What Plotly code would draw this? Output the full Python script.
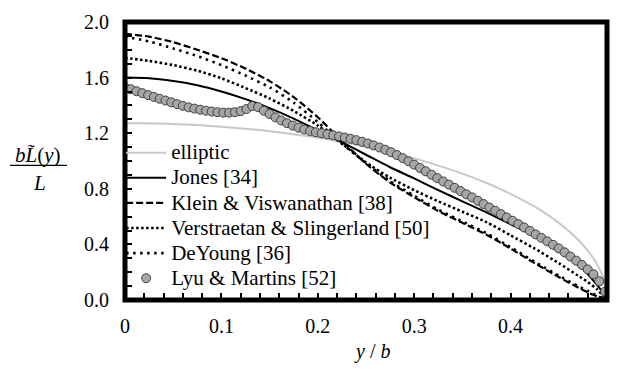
import plotly.graph_objects as go

# ---------------- data ----------------
ell_x = [0, 0.05, 0.1, 0.15, 0.2, 0.25, 0.3, 0.325, 0.35, 0.375, 0.4, 0.425, 0.44,
         0.45, 0.46, 0.47, 0.475, 0.48, 0.485, 0.49, 0.495, 0.498, 0.5]
ell_y = [1.273, 1.267, 1.247, 1.214, 1.167, 1.103, 1.019, 0.967, 0.909, 0.842, 0.764,
         0.671, 0.605, 0.555, 0.499, 0.434, 0.397, 0.356, 0.309, 0.253, 0.180, 0.114, 0.0]

jones_x = [0, 0.025, 0.05, 0.075, 0.1, 0.125, 0.15, 0.175, 0.2, 0.225, 0.25, 0.275,
           0.3, 0.325, 0.35, 0.375, 0.4, 0.425, 0.45, 0.465, 0.475, 0.487, 0.495, 0.5]
jones_y = [1.600, 1.595, 1.575, 1.545, 1.500, 1.445, 1.380, 1.305, 1.220, 1.135, 1.045,
           0.955, 0.875, 0.790, 0.710, 0.630, 0.545, 0.460, 0.360, 0.285, 0.225, 0.130,
           0.060, 0.0]

klein_x = [0, 0.025, 0.05, 0.075, 0.1, 0.125, 0.15, 0.175, 0.2, 0.225, 0.25, 0.275,
           0.3, 0.325, 0.35, 0.375, 0.4, 0.425, 0.45, 0.47, 0.48, 0.49, 0.5]
klein_y = [1.915, 1.895, 1.855, 1.800, 1.740, 1.665, 1.575, 1.460, 1.315, 1.145, 0.980,
           0.845, 0.740, 0.640, 0.555, 0.470, 0.370, 0.265, 0.165, 0.090, 0.055, 0.025, 0.0]

vers_x = [0, 0.025, 0.05, 0.075, 0.1, 0.125, 0.15, 0.175, 0.2, 0.225, 0.25, 0.275,
          0.3, 0.325, 0.35, 0.375, 0.4, 0.425, 0.45, 0.47, 0.48, 0.49, 0.5]
vers_y = [1.742, 1.720, 1.690, 1.650, 1.595, 1.525, 1.450, 1.360, 1.255, 1.125, 0.990,
          0.880, 0.790, 0.710, 0.635, 0.560, 0.465, 0.370, 0.265, 0.175, 0.130, 0.075, 0.0]

dey_x = [0, 0.025, 0.05, 0.075, 0.1, 0.125, 0.15, 0.175, 0.2, 0.225, 0.25, 0.275,
         0.3, 0.325, 0.35, 0.375, 0.4, 0.425, 0.45, 0.47, 0.48, 0.49, 0.5]
dey_y = [1.895, 1.860, 1.810, 1.755, 1.690, 1.615, 1.530, 1.420, 1.280, 1.125, 0.985,
         0.855, 0.750, 0.650, 0.565, 0.480, 0.380, 0.275, 0.175, 0.100, 0.065, 0.030, 0.0]

lyu_x = [0.000, 0.006, 0.012, 0.018, 0.024, 0.030, 0.036, 0.042, 0.048, 0.054, 0.060,
         0.066, 0.072, 0.078, 0.084, 0.090, 0.096, 0.102, 0.108, 0.114, 0.120, 0.126,
         0.132, 0.138, 0.144, 0.150, 0.156, 0.162, 0.168, 0.174, 0.180, 0.186, 0.192,
         0.198, 0.204, 0.210, 0.216, 0.222, 0.228, 0.234, 0.240, 0.246, 0.252, 0.258,
         0.264, 0.270, 0.276, 0.282, 0.288, 0.294, 0.300, 0.306, 0.312, 0.318, 0.324,
         0.330, 0.336, 0.342, 0.348, 0.354, 0.360, 0.366, 0.372, 0.378, 0.384, 0.390,
         0.396, 0.402, 0.408, 0.414, 0.420, 0.426, 0.432, 0.438, 0.444, 0.450, 0.456,
         0.462, 0.468, 0.474, 0.480, 0.486, 0.492, 0.498]
lyu_y = [1.530, 1.516, 1.502, 1.488, 1.474, 1.461, 1.448, 1.435, 1.422, 1.409, 1.397,
         1.386, 1.377, 1.369, 1.362, 1.356, 1.351, 1.348, 1.348, 1.351, 1.359, 1.374,
         1.395, 1.388, 1.362, 1.338, 1.314, 1.292, 1.272, 1.255, 1.240, 1.227, 1.216,
         1.207, 1.199, 1.192, 1.185, 1.177, 1.169, 1.160, 1.150, 1.138, 1.126, 1.112,
         1.097, 1.081, 1.063, 1.043, 1.021, 0.998, 0.974, 0.950, 0.926, 0.901, 0.877,
         0.853, 0.830, 0.807, 0.784, 0.761, 0.738, 0.714, 0.690, 0.666, 0.642, 0.618,
         0.594, 0.570, 0.546, 0.522, 0.497, 0.472, 0.447, 0.422, 0.397, 0.371, 0.343,
         0.313, 0.283, 0.252, 0.220, 0.185, 0.135, 0.060]

names = ["elliptic", "Jones [34]", "Klein &amp; Viswanathan [38]",
         "Verstraetan &amp; Slingerland [50]", "DeYoung [36]", "Lyu &amp; Martins [52]"]

x_tickvals = [0, 0.1, 0.2, 0.3, 0.4, 0.5]
x_ticktext = ["0", "0.1", "0.2", "0.3", "0.4", "0.5"]
y_tickvals = [0, 0.4, 0.8, 1.2, 1.6, 2.0]
y_ticktext = ["0.0", "0.4", "0.8", "1.2", "1.6", "2.0"]

# ---------------- figure ----------------
FONT = "Liberation Serif"


def lg(name):
    return '<span style="font-size:21px">' + name + '</span>'


fig = go.Figure()
fig.add_trace(go.Scatter(x=ell_x, y=ell_y, mode="lines", name=lg(names[0]),
                         line=dict(color="#c8c8c8", width=2, shape="spline", smoothing=0.5)))
fig.add_trace(go.Scatter(x=jones_x, y=jones_y, mode="lines", name=lg(names[1]),
                         line=dict(color="black", width=2, shape="spline", smoothing=0.6)))
fig.add_trace(go.Scatter(x=klein_x, y=klein_y, mode="lines", name=lg(names[2]),
                         line=dict(color="black", width=2.2, dash="7px,3px", shape="spline", smoothing=0.6)))
fig.add_trace(go.Scatter(x=vers_x, y=vers_y, mode="lines", name=lg(names[3]),
                         line=dict(color="black", width=2.6, dash="2.5px,2.5px", shape="spline", smoothing=0.6)))
fig.add_trace(go.Scatter(x=dey_x, y=dey_y, mode="lines", name=lg(names[4]),
                         line=dict(color="black", width=2.6, dash="2.5px,4.5px", shape="spline", smoothing=0.6)))
fig.add_trace(go.Scatter(x=lyu_x, y=lyu_y, mode="markers", name=lg(names[5]),
                         marker=dict(size=9, color="#a6a6a6", line=dict(color="#404040", width=1))))

axis_common = dict(showgrid=False, zeroline=False, showline=False, ticks="inside",
                   tickcolor="black", tickwidth=2, ticklen=7,
                   tickfont=dict(family=FONT, size=20, color="black"))

fig.update_xaxes(range=[0, 0.5], tickvals=x_tickvals, ticktext=x_ticktext,
                 minor=dict(ticks="inside", dtick=0.02, tick0=0, ticklen=7, tickwidth=2,
                            tickcolor="black"),
                 ticklabelstandoff=12, **axis_common)
fig.update_yaxes(range=[0, 2.0], tickvals=y_tickvals, ticktext=y_ticktext,
                 minor=dict(ticks="inside", dtick=0.1, tick0=0, ticklen=7, tickwidth=2,
                            tickcolor="black"),
                 ticklabelstandoff=15, **axis_common)

fig.update_layout(
    width=618, height=371,
    margin=dict(l=125, r=11, t=17, b=71),
    plot_bgcolor="white", paper_bgcolor="white",
    font=dict(family=FONT, color="black"),
    showlegend=True,
    legend=dict(x=-0.008, y=0.593, xanchor="left", yanchor="top",
                bgcolor="rgba(0,0,0,0)", borderwidth=0, itemwidth=40,
                font=dict(family=FONT, size=17, color="black")),
    shapes=[
        dict(type="rect", xref="paper", yref="paper", x0=0, x1=1, y0=0, y1=1,
             line=dict(color="black", width=5), layer="above"),
        dict(type="line", xref="paper", yref="paper",
             x0=(10 - 125) / 482, x1=(67 - 125) / 482,
             y0=(300 - 163) / 283, y1=(300 - 163) / 283,
             line=dict(color="black", width=1.3)),
    ],
    annotations=[
        dict(text="<i>b</i><i>L\u0303</i>(<i>y</i>)", xref="paper", yref="paper",
             x=(38 - 125) / 482, y=(300 - 152) / 283, xanchor="center", yanchor="middle",
             showarrow=False, font=dict(family=FONT, size=21, color="black")),
        dict(text="<i>L</i>", xref="paper", yref="paper",
             x=(39 - 125) / 482, y=(300 - 181) / 283, xanchor="center", yanchor="middle",
             showarrow=False, font=dict(family=FONT, size=21, color="black")),
        dict(text="<i>y</i> / <i>b</i>", xref="paper", yref="paper",
             x=(372 - 125) / 482, y=(300 - 352) / 283, xanchor="center", yanchor="middle",
             showarrow=False, font=dict(family=FONT, size=20, color="black")),
    ],
)

fig.write_html("out.html")
